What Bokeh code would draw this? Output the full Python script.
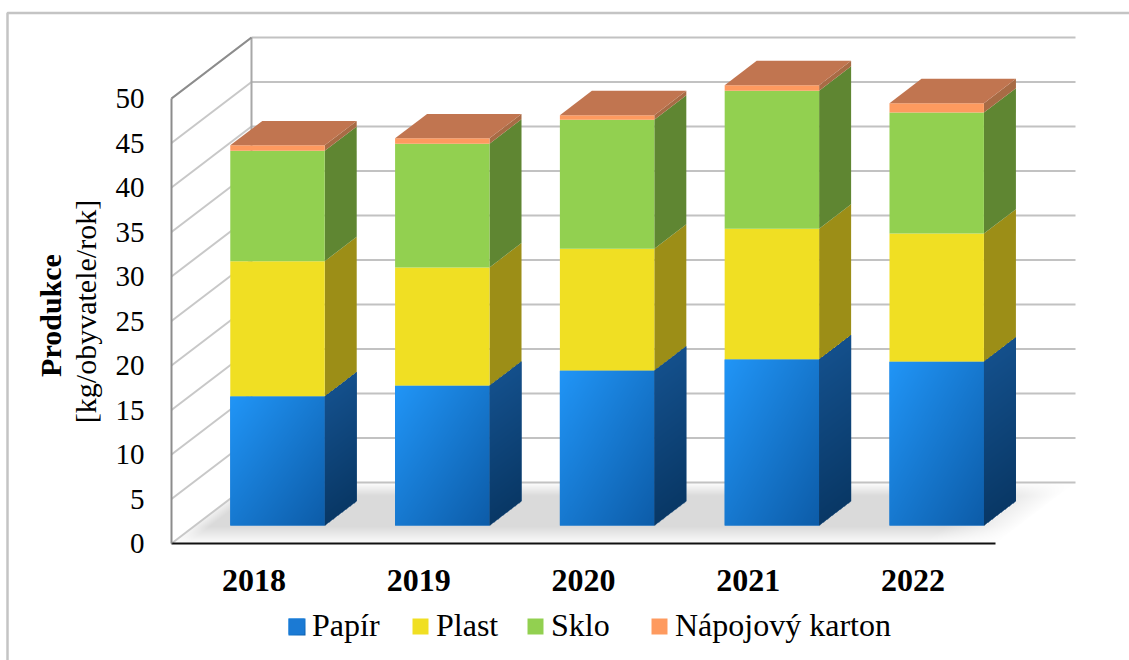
import numpy as np
from bokeh.embed import file_html
from bokeh.resources import INLINE
from bokeh.models import FixedTicker, Legend, LegendItem, Label
from bokeh.plotting import figure

# Chart data
years = ["2018", "2019", "2020", "2021", "2022"]
papir = [14.5, 15.7, 17.4, 18.65, 18.4]
plast = [15.2, 13.3, 13.7, 14.7, 14.4]
sklo = [12.4, 13.9, 14.5, 15.5, 13.6]
karton = [0.62, 0.6, 0.5, 0.62, 1.05]
y_ticks = list(range(0, 55, 5))

series_names = ["Papír", "Plast", "Sklo", "Nápojový karton"]
front_colors = ["#1b7ad4", "#f0df23", "#92d050", "#fe9a5f"]
side_colors = ["#10457c", "#9c8e17", "#5f8632", "#a86b45"]
top_color = "#c17550"

FONT = "Liberation Serif"
WIDTH, HEIGHT = 1129, 660

# Screen geometry of the plot: the front plane runs from (171, 543) to (995, 98)
X0, Y0, PX_X, PX_Y = 171.0, 543.0, 164.8, 8.9
DEPTH_X = 80 / PX_X  # oblique shift of the back wall, in data units
DEPTH_Y = 61 / PX_Y
BAR_WIDTH = 0.573
BAR_D0, BAR_D1 = 0.295, 0.695  # front and back faces of a column, as a share of the depth


def xpx(px):
    return (px - X0) / PX_X


def ypx(py):
    return (Y0 - py) / PX_Y


def rgba_image(r, g, b, a):
    """Pack four equally shaped channel arrays into an image_rgba array."""
    img = np.zeros(r.shape, dtype=np.uint32)
    view = img.view(np.uint8).reshape(r.shape + (4,))
    view[..., 0], view[..., 1], view[..., 2], view[..., 3] = r, g, b, a
    return img


def blue_front(w, h):
    """Diagonal blue gradient, lightest in the upper left corner."""
    A, B = np.meshgrid((np.arange(w) + 0.5) / w, (np.arange(h) + 0.5) / h)
    t = (A + (1 - B)) / 2  # rows run upward, so t grows towards the lower right corner
    return rgba_image(33 - 20 * t, 150 - 58 * t, 248 - 80 * t, np.full((h, w), 255))


p = figure(
    width=WIDTH, height=HEIGHT, output_backend="svg", toolbar_location=None,
    x_range=(xpx(0), xpx(WIDTH)), y_range=(ypx(HEIGHT), ypx(0)),
    min_border=0, outline_line_color=None, background_fill_color="white",
    border_fill_color="white",
)
p.grid.visible = False

# Chart area edge: only the top and left sides are stroked
p.line([xpx(7), xpx(7), xpx(WIDTH)], [ypx(HEIGHT), ypx(12.5), ypx(12.5)],
       line_color="#c4c4c4", line_width=2.5)

# Shaded floor
fw, fh = 905, 61
U, V = np.meshgrid((np.arange(fw) + 0.5) / fw, (np.arange(fh) + 0.5) / fh)
uu = (U * (5 + DEPTH_X) - V * DEPTH_X) / 5  # position along the front edge
inside = (uu >= 0) & (uu <= 1)
shade = np.clip((1 - V) / 0.22, 0, 1) * np.clip((V + 0.02) / 0.3, 0, 1)
shade = shade * np.clip((1 - uu) / 0.09, 0, 1) * np.clip((uu + 0.01) / 0.03, 0, 1)
level = 255 - 37 * shade
p.image_rgba(image=[rgba_image(level, level, level, np.where(inside, 255, 0))],
             x=0, y=0, dw=5 + DEPTH_X, dh=DEPTH_Y)

# Gridlines on the back and left walls
p.multi_line(
    [[DEPTH_X, 5 + DEPTH_X] for _ in y_ticks],
    [[v + DEPTH_Y, v + DEPTH_Y] for v in y_ticks],
    line_color="#c2c2c2", line_width=2,
)
p.multi_line(
    [[0, DEPTH_X] for _ in y_ticks],
    [[v, v + DEPTH_Y] for v in y_ticks],
    line_color="#c8c8c8", line_width=2,
)
p.line([DEPTH_X, DEPTH_X], [DEPTH_Y, 50 + DEPTH_Y], line_color="#a8a8a8", line_width=2)
p.line([0, DEPTH_X], [50, 50 + DEPTH_Y], line_color="#8c8c8c", line_width=2)

# Stacked columns
stack = np.array([papir, plast, sklo, karton], dtype=float)
tops = np.cumsum(stack, axis=0)
bottoms = tops - stack
base = BAR_D0 * DEPTH_Y
left = np.arange(5) + (1 - BAR_WIDTH) / 2 + BAR_D0 * DEPTH_X
right = left + BAR_WIDTH
ddx = (BAR_D1 - BAR_D0) * DEPTH_X
ddy = (BAR_D1 - BAR_D0) * DEPTH_Y

bar_renderers = []
for s, name in enumerate(series_names):
    # side faces
    p.patches(
        [[right[i], right[i] + ddx, right[i] + ddx, right[i]] for i in range(5)],
        [[base + bottoms[s, i], base + bottoms[s, i] + ddy,
          base + tops[s, i] + ddy, base + tops[s, i]] for i in range(5)],
        fill_color=side_colors[s], line_color=None,
    )
    # front faces
    bars = p.quad(left=left, right=right, bottom=base + bottoms[s], top=base + tops[s],
                  fill_color=front_colors[s], line_color=None)
    bar_renderers.append(bars)

# Gradients over the lowest segments: front faces and side faces
for i in range(5):
    h = int(round(stack[0, i] * PX_Y))
    w = int(round(BAR_WIDTH * PX_X))
    p.image_rgba(image=[blue_front(w, h)], x=left[i], y=base, dw=BAR_WIDTH, dh=float(stack[0, i]))

    sw = int(round(ddx * PX_X))
    sh = int(round((stack[0, i] + ddy) * PX_Y))
    A, B = np.meshgrid((np.arange(sw) + 0.5) / sw, (np.arange(sh) + 0.5) / sh)
    yy = B * (stack[0, i] + ddy)
    low = A * ddy
    t = np.clip((yy - low) / stack[0, i], 0, 1)  # 0 at the floor, 1 at the top of the segment
    mask = (yy >= low) & (yy <= low + stack[0, i])
    p.image_rgba(image=[rgba_image(9 + 11 * t, 56 + 24 * t, 102 + 38 * t, np.where(mask, 255, 0))],
                 x=right[i], y=base, dw=ddx, dh=float(stack[0, i] + ddy))

# Column caps
p.patches(
    [[left[i], left[i] + ddx, right[i] + ddx, right[i]] for i in range(5)],
    [[base + tops[3, i], base + tops[3, i] + ddy, base + tops[3, i] + ddy, base + tops[3, i]]
     for i in range(5)],
    fill_color=top_color, line_color=None,
)

# Axes pinned to the front plane
p.yaxis.fixed_location = 0
p.yaxis.bounds = (0, 50)
p.yaxis.ticker = FixedTicker(ticks=y_ticks)
p.yaxis.axis_line_color = "#8c8c8c"
p.yaxis.axis_line_width = 2
p.yaxis.major_tick_line_color = None
p.yaxis.minor_tick_line_color = None
p.yaxis.major_label_text_font = FONT
p.yaxis.major_label_text_font_size = "29px"
p.yaxis.major_label_text_color = "#000000"
p.yaxis.major_label_standoff = 21

p.xaxis.fixed_location = 0
p.xaxis.bounds = (0, 5)
p.xaxis.ticker = FixedTicker(ticks=[i + 0.5 for i in range(5)])
p.xaxis.major_label_overrides = {i + 0.5: y for i, y in enumerate(years)}
p.xaxis.axis_line_color = "#111111"
p.xaxis.axis_line_width = 2
p.xaxis.major_tick_line_color = None
p.xaxis.minor_tick_line_color = None
p.xaxis.major_label_text_font = FONT
p.xaxis.major_label_text_font_style = "bold"
p.xaxis.major_label_text_font_size = "32px"
p.xaxis.major_label_text_color = "#000000"
p.xaxis.major_label_standoff = 20

# Two-line rotated axis title
p.add_layout(Label(x=xpx(50), y=ypx(315), text="Produkce", angle=90, angle_units="deg",
                   text_font=FONT, text_font_style="bold", text_font_size="30px",
                   text_align="center", text_baseline="middle", text_color="#000000"))
p.add_layout(Label(x=xpx(85), y=ypx(311), text="[kg/obyvatele/rok]", angle=90, angle_units="deg",
                   text_font=FONT, text_font_size="30px",
                   text_align="center", text_baseline="middle", text_color="#000000"))

# Legend entries sit at their own positions along the bottom row
for name, bars, lx in zip(series_names, bar_renderers, [286, 410, 525, 649]):
    p.add_layout(Legend(
        items=[LegendItem(label=name, renderers=[bars])], orientation="horizontal",
        location=(lx, 16), background_fill_alpha=0, border_line_color=None,
        margin=0, padding=0, glyph_width=20, glyph_height=20, label_standoff=6,
        label_text_font=FONT, label_text_font_size="32px", label_text_color="#000000",
        level="guide",
    ))

# The blue key carries the same gradient as the columns
p.image_rgba(image=[blue_front(17, 17)], x=xpx(288), y=ypx(635), dw=17 / PX_X, dh=17 / PX_Y,
             level="overlay")

open("out.html", "w").write(file_html(p, INLINE))
